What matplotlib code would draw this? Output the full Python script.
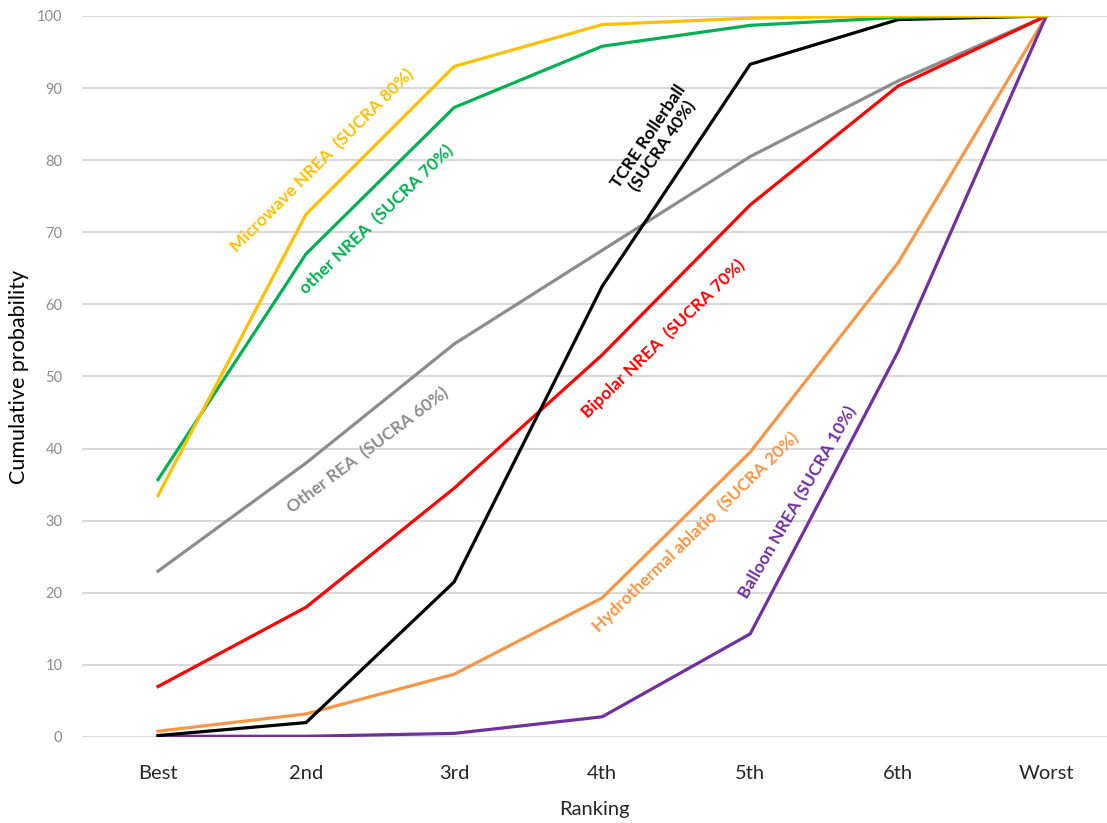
import matplotlib
matplotlib.use("Agg")
import matplotlib.pyplot as plt

plt.rcParams['font.family'] = ['Lato', 'DejaVu Sans']

rankings = ["Best", "2nd", "3rd", "4th", "5th", "6th", "Worst"]

microwave_nrea = [33.5, 72.5, 93.0, 98.8, 99.7, 100.0, 100.0]
other_nrea = [35.7, 67.0, 87.3, 95.8, 98.7, 99.8, 100.0]
other_rea = [23.0, 38.0, 54.5, 67.5, 80.5, 91.0, 100.0]
bipolar_nrea = [7.0, 18.0, 34.5, 53.0, 73.8, 90.3, 100.0]
tcre_rollerball = [0.2, 2.0, 21.5, 62.5, 93.3, 99.5, 100.0]
hydrothermal = [0.8, 3.2, 8.7, 19.3, 39.5, 65.8, 100.0]
balloon_nrea = [0.1, 0.1, 0.5, 2.8, 14.3, 53.5, 100.0]

series = [
    (other_rea, "#8c8c8c"),
    (bipolar_nrea, "#ff0000"),
    (hydrothermal, "#f79646"),
    (balloon_nrea, "#7030a0"),
    (tcre_rollerball, "#000000"),
    (other_nrea, "#00b050"),
    (microwave_nrea, "#ffc000"),
]

# label text, colour, position (x in ranking index, y in %), rotation
labels = [
    ("Microwave NREA  (SUCRA 80%)", "#ffc000", 1.11, 80.0, 45),
    ("other NREA  (SUCRA 70%)", "#00b050", 1.48, 71.7, 44),
    ("TCRE Rollerball\n(SUCRA 40%)", "#000000", 3.36, 82.6, 56),
    ("Other REA  (SUCRA 60%)", "#8c8c8c", 1.42, 39.8, 37),
    ("Bipolar NREA  (SUCRA 70%)", "#ff0000", 3.41, 55.3, 44),
    ("Hydrothermal ablatio  (SUCRA 20%)", "#f79646", 3.63, 28.4, 44),
    ("Balloon NREA (SUCRA 10%)", "#7030a0", 4.32, 32.5, 60),
]

fig = plt.figure(figsize=(11.07, 8.23), dpi=100)
ax = fig.add_axes([0.074, 0.1045, 0.926, 0.8761])

x = list(range(len(rankings)))
for values, color in series:
    ax.plot(x, values, color=color, lw=2.3, solid_joinstyle='miter', zorder=3)

for text, color, tx, ty, rot in labels:
    ax.text(tx, ty, text, color=color, fontsize=12.5, fontweight='bold',
            rotation=rot, rotation_mode='anchor', ha='center', va='center',
            linespacing=1.1, zorder=4)

ax.set_xlim(-0.514, 6.41)
ax.set_ylim(0, 100)
ax.set_yticks(range(0, 101, 10))
ax.set_xticks(x)
ax.set_xticklabels(rankings)
ax.grid(axis='y', color='#d9d9d9', lw=1.5, zorder=0)
ax.set_axisbelow(True)
for s in ax.spines.values():
    s.set_visible(False)
ax.tick_params(axis='both', length=0)
ax.tick_params(axis='y', labelsize=10.5, labelcolor='#8c8c8c', pad=14)
ax.tick_params(axis='x', labelsize=14.5, labelcolor='#262626', pad=20)
ax.set_xlabel("Ranking", fontsize=14.5, color='#262626', labelpad=14)
ax.set_ylabel("Cumulative probability", fontsize=15.5, color='#000000', labelpad=6)

fig.savefig("out.png", dpi=100)
